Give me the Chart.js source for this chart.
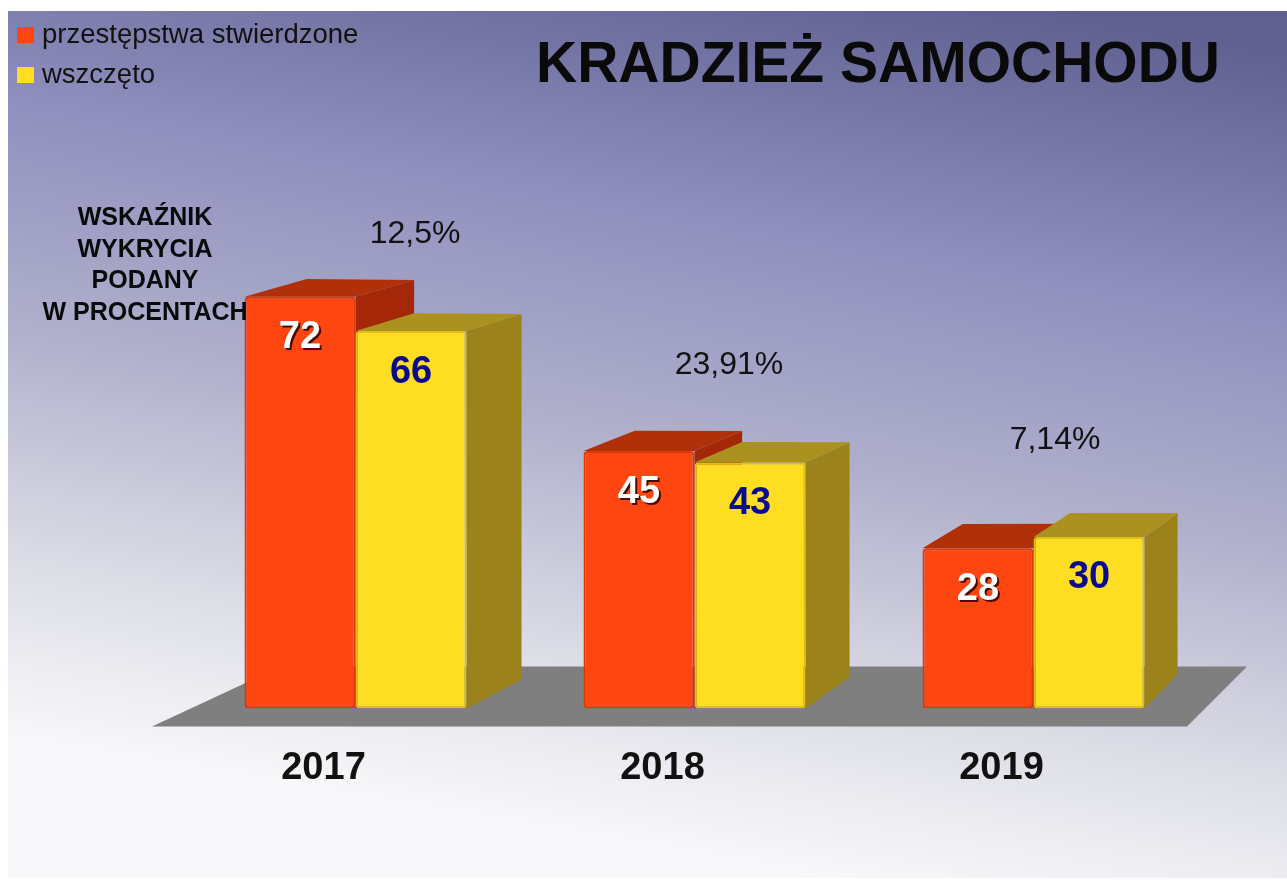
<!DOCTYPE html>
<html lang="pl">
<head>
<meta charset="UTF-8">
<title>Kradzież samochodu</title>
<script src="https://cdn.jsdelivr.net/npm/chart.js"></script>
<style>
    body { margin: 0; background: #fff; }
    #wrap { width: 1287px; height: 881px; position: relative; }
</style>
</head>
<body>
<div id="wrap"><canvas id="theftChart"></canvas></div>
<script>
    // dane
    const years = ['2017', '2018', '2019'];
    const stwierdzone = [72, 45, 28];
    const wszczeto = [66, 43, 30];
    const wskaznik = [12.5, 23.91, 7.14];
    const seriesNames = ['przestępstwa stwierdzone', 'wszczęto'];

    const FONT = '"Liberation Sans", Arial, sans-serif';
    const RED = '#ff4610', YELLOW = '#ffdd22';
    const colors = [
        { front: RED, edge: '#d9380b', top: '#b0300a', side: '#a42808', text: '#ffffff' },
        { front: YELLOW, edge: '#e2bf14', top: '#ab9220', side: '#9c821a', text: '#0a0a8c' }
    ];
    // przesuniecie etykiet procentowych wzgledem zoltego slupka
    const rateShift = [4, -21, -34];

    // perspektywa: przesuniecie tylnej sciany wzgledem przedniej
    function depth(x, y, base) {
        const dx = 55 - (x - 467) * 0.0324;
        const dyB = -29 - (x - 467) * 0.0074;
        const c = 0.032 + (x - 467) * 0.0000398;
        return [dx, dyB + (base - y) * c];
    }

    const backgroundPlugin = {
        id: 'bg',
        beforeDraw(chart) {
            const ctx = chart.ctx;
            ctx.save();
            ctx.fillStyle = '#fff';
            ctx.fillRect(0, 0, chart.width, chart.height);
            const g = ctx.createLinearGradient(1000, 0, 850, 881);
            g.addColorStop(0, '#5f5f90');
            g.addColorStop(0.3, '#9090bf');
            g.addColorStop(0.55, '#b0b0cc');
            g.addColorStop(0.8, '#dcdce6');
            g.addColorStop(1, '#f8f8fa');
            ctx.fillStyle = g;
            ctx.fillRect(8, 11, chart.width - 8, chart.height - 14);
            ctx.restore();
        }
    };

    function poly(ctx, pts, fill) {
        ctx.beginPath();
        ctx.moveTo(pts[0][0], pts[0][1]);
        for (let i = 1; i < pts.length; i++) ctx.lineTo(pts[i][0], pts[i][1]);
        ctx.closePath();
        ctx.fillStyle = fill;
        ctx.fill();
    }

    // podloga + boki i wierzch slupkow (przed przednimi scianami)
    const sceneryPlugin = {
        id: 'scenery',
        beforeDatasetsDraw(chart) {
            const { ctx, chartArea: a } = chart;
            ctx.save();
            poly(ctx, [[a.left - 34, a.bottom + 18], [a.right - 16, a.bottom + 18],
                       [a.right + 44, a.bottom - 42], [a.left + 95, a.bottom - 42]], '#7f7f7f');
            chart.data.datasets.forEach((ds, di) => {
                const c = colors[di];
                chart.getDatasetMeta(di).data.forEach(bar => {
                    const l = bar.x - bar.width / 2, r = bar.x + bar.width / 2;
                    const y = bar.y, b = bar.base;
                    const [dlx, dly] = depth(l, y, b);
                    const [drx, dry] = depth(r, y, b);
                    const [dbx, dby] = depth(r, b, b);
                    poly(ctx, [[r, y], [r, b], [r + dbx, b + dby], [r + drx, y + dry]], c.side);
                    poly(ctx, [[l, y], [r, y], [r + drx, y + dry], [l + dlx, y + dly]], c.top);
                });
            });
            ctx.restore();
        }
    };

    const textPlugin = {
        id: 'texts',
        afterDatasetsDraw(chart) {
            const ctx = chart.ctx;
            ctx.save();
            ctx.textAlign = 'center';
            ctx.textBaseline = 'middle';
            ctx.font = 'bold 38px ' + FONT;
            chart.data.datasets.forEach((ds, di) => {
                chart.getDatasetMeta(di).data.forEach((bar, i) => {
                    ctx.save();
                    if (di === 0) {
                        ctx.shadowColor = 'rgba(40,0,0,0.85)';
                        ctx.shadowOffsetX = 2;
                        ctx.shadowOffsetY = 2;
                    }
                    ctx.fillStyle = colors[di].text;
                    ctx.fillText(ds.data[i], bar.x, bar.y + 41);
                    ctx.restore();
                });
            });
            // wskaznik wykrycia
            ctx.font = '32px ' + FONT;
            ctx.fillStyle = '#111';
            chart.getDatasetMeta(1).data.forEach((bar, i) => {
                const txt = wskaznik[i].toString().replace('.', ',') + '%';
                ctx.fillText(txt, bar.x + rateShift[i], bar.y - 97);
            });
            ctx.restore();
        },
        afterDraw(chart) {
            const ctx = chart.ctx;
            ctx.save();
            ctx.fillStyle = '#0a0a0a';
            ctx.textAlign = 'center';
            ctx.textBaseline = 'alphabetic';
            ctx.font = 'bold 57px ' + FONT;
            ctx.fillText('KRADZIEŻ SAMOCHODU', 878, 82);

            ctx.font = 'bold 25px ' + FONT;
            ['WSKAŹNIK', 'WYKRYCIA', 'PODANY', 'W PROCENTACH'].forEach((line, i) => {
                ctx.fillText(line, 145, 225 + i * 31.7);
            });

            // legenda
            ctx.textAlign = 'left';
            ctx.font = '27.5px ' + FONT;
            chart.data.datasets.forEach((ds, i) => {
                const top = 27 + i * 40;
                ctx.fillStyle = ds.backgroundColor;
                ctx.fillRect(17, top, 17, 16);
                ctx.fillStyle = '#111';
                ctx.fillText(ds.label, 42, top + 16);
            });
            ctx.restore();
        }
    };

    new Chart(document.getElementById('theftChart'), {
        type: 'bar',
        data: {
            labels: years,
            datasets: [
                {
                    label: seriesNames[0],
                    data: stwierdzone,
                    backgroundColor: RED,
                    borderColor: colors[0].edge,
                    borderWidth: 2,
                    borderRadius: 4,
                    borderSkipped: false
                },
                {
                    label: seriesNames[1],
                    data: wszczeto,
                    backgroundColor: YELLOW,
                    borderColor: colors[1].edge,
                    borderWidth: 2,
                    borderRadius: 4,
                    borderSkipped: false
                }
            ]
        },
        options: {
            responsive: true,
            maintainAspectRatio: false,
            animation: false,
            layout: { padding: { left: 186, right: 84, top: 251, bottom: 61 } },
            categoryPercentage: 0.655,
            barPercentage: 1,
            plugins: { legend: { display: false }, tooltip: { enabled: false } },
            scales: {
                x: {
                    grid: { display: false },
                    border: { display: false },
                    ticks: {
                        color: '#111',
                        font: { family: FONT, size: 38, weight: 'bold' },
                        padding: 29,
                        labelOffset: -32
                    }
                },
                y: { display: false, min: 0, max: 80 }
            }
        },
        plugins: [backgroundPlugin, sceneryPlugin, textPlugin]
    });
</script>
</body>
</html>
